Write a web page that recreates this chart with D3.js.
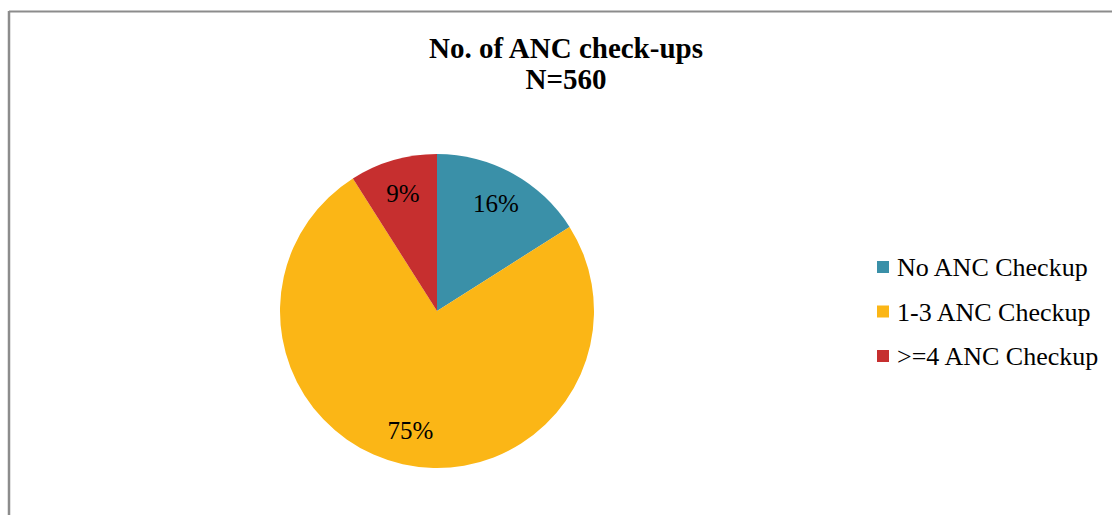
<!DOCTYPE html>
<html>
<head>
<meta charset="utf-8">
<script src="https://cdn.jsdelivr.net/npm/d3@7"></script>
<style>
  html, body { margin: 0; padding: 0; background: #fff; }
  svg { display: block; }
  text { font-family: "Liberation Serif", "DejaVu Serif", serif; fill: #000; }
</style>
</head>
<body>
<svg id="chart" width="1112" height="515"></svg>
<script>
// ANC check-up distribution, N=560
const categories = ["No ANC Checkup", "1-3 ANC Checkup", ">=4 ANC Checkup"];
const values = [16, 75, 9];
const colors = ["#3a90a8", "#fbb616", "#c62f2f"];
const titleLines = ["No. of ANC check-ups", "N=560"];

const svg = d3.select("#chart");
const W = 1112, H = 515;

// chart frame (only the top and left edges fall inside the view)
svg.append("line").attr("x1", 9).attr("x2", W).attr("y1", 11.5).attr("y2", 11.5)
  .attr("stroke", "#8c8c8c").attr("stroke-width", 2);
svg.append("line").attr("x1", 9).attr("x2", 9).attr("y1", 11).attr("y2", H)
  .attr("stroke", "#8c8c8c").attr("stroke-width", 2.5);

// title
const title = svg.append("text").attr("text-anchor", "middle")
  .attr("font-weight", "bold").attr("font-size", 29);
titleLines.forEach((t, i) => {
  title.append("tspan").attr("x", 566).attr("y", 58 + i * 31).text(t);
});

// pie
const cx = 437, cy = 311, R = 157;
const pie = d3.pie().sort(null).value(d => d.v);
const arcs = pie(categories.map((c, i) => ({ c, v: values[i], col: colors[i] })));
const arc = d3.arc().innerRadius(0).outerRadius(R);
const labelArc = d3.arc().innerRadius(R * 0.78).outerRadius(R * 0.78);

const g = svg.append("g").attr("transform", `translate(${cx},${cy})`);
g.selectAll("path").data(arcs).join("path")
  .attr("d", arc).attr("fill", d => d.data.col);

g.selectAll("text.lbl").data(arcs).join("text")
  .attr("class", "lbl")
  .attr("transform", d => `translate(${labelArc.centroid(d)})`)
  .attr("text-anchor", "middle").attr("dy", "0.35em")
  .attr("font-size", 25)
  .text(d => d.data.v + "%");

// legend
const leg = svg.append("g");
const rowY = d3.scalePoint().domain(categories).range([267, 356]);
categories.forEach((c, i) => {
  const y = rowY(c);
  leg.append("rect").attr("x", 877).attr("y", y - 6).attr("width", 12).attr("height", 12)
    .attr("fill", colors[i]);
  leg.append("text").attr("x", 897).attr("y", y).attr("dy", "0.35em")
    .attr("font-size", 26).text(c);
});
</script>
</body>
</html>
